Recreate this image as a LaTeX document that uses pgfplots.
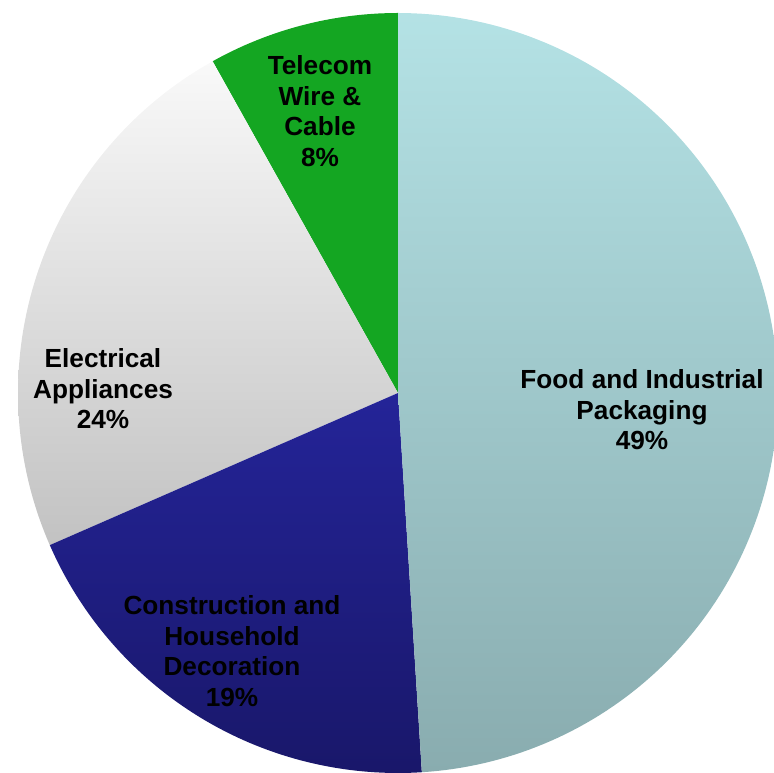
\documentclass[border=0pt]{standalone}
\usepackage{pgfplots}
\pgfplotsset{compat=1.18}
\usepackage{fontspec}
\setmainfont{Liberation Sans}
\definecolor{foodtop}{RGB}{180,226,229}
\definecolor{foodbot}{RGB}{137,172,175}
\definecolor{constop}{RGB}{36,36,152}
\definecolor{consbot}{RGB}{25,23,106}
\definecolor{electop}{RGB}{249,249,249}
\definecolor{elecbot}{RGB}{194,194,194}
\definecolor{telecom}{RGB}{20,166,34}
\begin{document}
\begin{tikzpicture}
\begin{axis}[scale only axis, width=774bp, height=773bp,
  xmin=-398, xmax=376, ymin=-380, ymax=393, hide axis, clip=true]
% shares (percent, as drawn), counter-clockwise from 90 deg:
% Telecom 8.1, Electrical 23.4, Construction 19.4, Food 49.1
\addplot[draw=none, fill=telecom, domain=90:119.2, samples=40, variable=\t]
  ({380*cos(\t)},{380*sin(\t)}) -- (axis cs:0,0) -- cycle;
\addplot[draw=none, top color=electop, bottom color=elecbot, domain=119.2:203.6, samples=80, variable=\t]
  ({380*cos(\t)},{380*sin(\t)}) -- (axis cs:0,0) -- cycle;
\addplot[draw=none, top color=constop, bottom color=consbot, domain=203.6:273.6, samples=80, variable=\t]
  ({380*cos(\t)},{380*sin(\t)}) -- (axis cs:0,0) -- cycle;
\addplot[draw=none, top color=foodtop, bottom color=foodbot, domain=273.6:450, samples=150, variable=\t]
  ({380*cos(\t)},{380*sin(\t)}) -- (axis cs:0,0) -- cycle;
\tikzset{lab/.style={align=center, inner sep=0pt, font=\fontsize{26.3}{30.7}\selectfont\bfseries}}
\node[lab] at (axis cs:-78,282) {Telecom\\Wire \&\\Cable\\8\%};
\node[lab] at (axis cs:-295,4) {Electrical\\Appliances\\24\%};
\node[lab] at (axis cs:244,-17) {Food and Industrial\\Packaging\\49\%};
\node[lab] at (axis cs:-166,-258) {Construction and\\Household\\Decoration\\19\%};
\end{axis}
\pgfresetboundingbox
\path[use as bounding box] (current axis.south west) rectangle (current axis.north east);
\end{tikzpicture}
\end{document}
